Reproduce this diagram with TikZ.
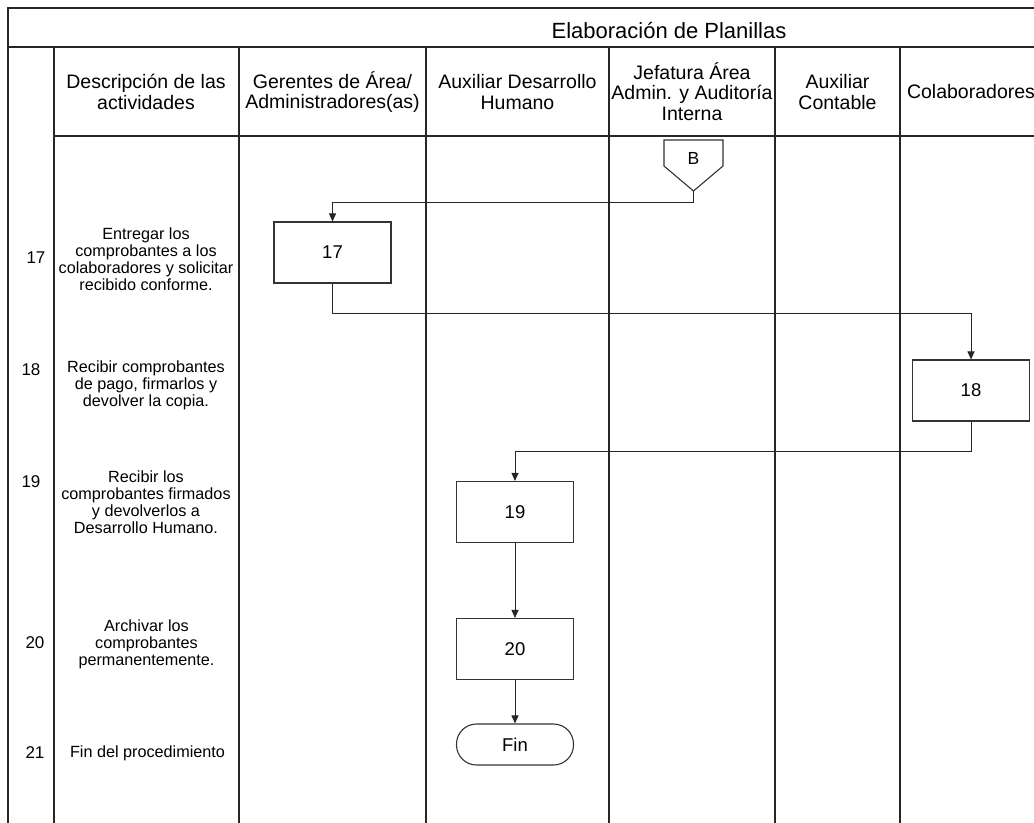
\documentclass[tikz,border=0pt]{standalone}
\usepackage{fontspec}
\setmainfont{Liberation Sans}
\usetikzlibrary{arrows.meta}
\begin{document}
\begin{tikzpicture}[x=1bp,y=-1bp,
  grid/.style={line width=1.6bp, draw=black!85},
  conn/.style={line width=1bp, draw=black!85},
  arr/.style={conn, -{Triangle[length=8bp,width=7bp]}},
  proc/.style={draw=black!80, line width=1.1bp, minimum width=117bp, minimum height=61bp, inner sep=0pt, font=\fontsize{18.5bp}{20bp}\selectfont},
  term/.style={proc, minimum height=41bp, rounded corners=20bp},
  hdr/.style={align=center, inner sep=0pt, font=\fontsize{19.5bp}{20.5bp}\selectfont},
  ttl/.style={inner sep=0pt, font=\fontsize{22bp}{24bp}\selectfont},
  desc/.style={align=center, inner sep=0pt, font=\fontsize{16.2bp}{17bp}\selectfont},
  num/.style={inner sep=0pt, font=\fontsize{17bp}{18bp}\selectfont}
]
\useasboundingbox (0,0) rectangle (1034,823);
\clip (0,0) rectangle (1034,823);
\fill[white] (0,0) rectangle (1034,823);

% table grid
\draw[grid] (1040,8) -- (8,8) -- (8,830);
\draw[grid] (8,47) -- (1040,47);
\draw[grid] (54,136) -- (1040,136);
\foreach \x in {54,239,426,609,775,900} \draw[grid] (\x,47) -- (\x,830);

% title and headers
\node[ttl] (title) at (669,31) {Elaboración de Planillas};
\node[hdr] (h1) at (146,92) {Descripción de las\\actividades};
\node[hdr] (h2) at (332.5,92) {Gerentes de Área/\\Administradores(as)};
\node[hdr] (h3) at (517.5,92) {Auxiliar Desarrollo\\Humano};
\node[hdr] (h4) at (692,91.5) {Jefatura Área\\Admin. y Auditoría\\Interna};
\node[hdr] (h5) at (837.5,92) {Auxiliar\\Contable};
\node[hdr] (h6) at (971,92) {Colaboradores};

% row numbers
\node[num] (r17) at (36,258) {17};
\node[num] (r18) at (31,370) {18};
\node[num] (r19) at (31,482) {19};
\node[num] (r20) at (35,643) {20};
\node[num] (r21) at (35,753) {21};

% descriptions
\node[desc] (d17) at (146,259) {Entregar los\\comprobantes a los\\colaboradores y solicitar\\recibido conforme.};
\node[desc] (d18) at (146,385) {Recibir comprobantes\\de pago, firmarlos y\\devolver la copia.};
\node[desc] (d19) at (146,502) {Recibir los\\comprobantes firmados\\y devolverlos a\\Desarrollo Humano.};
\node[desc] (d20) at (146.5,644) {Archivar los\\comprobantes\\permanentemente.};
\node[desc] (d21) at (147.5,753) {Fin del procedimiento};

% off-page connector B
\draw[line width=1.1bp, draw=black!80] (664,140) -- (723,140) -- (723,166) -- (693.5,191) -- (664,166) -- cycle;
\node[inner sep=0pt, font=\fontsize{17.5bp}{18bp}\selectfont] (B) at (693.5,158) {B};
\coordinate (Btip) at (693.5,191);

% process boxes
\node[proc] (n17) at (332.5,252.5) {17};
\node[proc] (n18) at (971,390.5) {18};
\node[proc] (n19) at (515,512) {19};
\node[proc] (n20) at (515,649) {20};
\node[term] (fin) at (515,744.5) {Fin};

% connectors
\draw[arr] (Btip) -- ++(0,11) -| (n17.north);
\draw[arr] (n17.south) -- ++(0,30) -| (n18.north);
\draw[arr] (n18.south) -- ++(0,30) -| (n19.north);
\draw[arr] (n19.south) -- (n20.north);
\draw[arr] (n20.south) -- (fin.north);
\end{tikzpicture}
\end{document}
